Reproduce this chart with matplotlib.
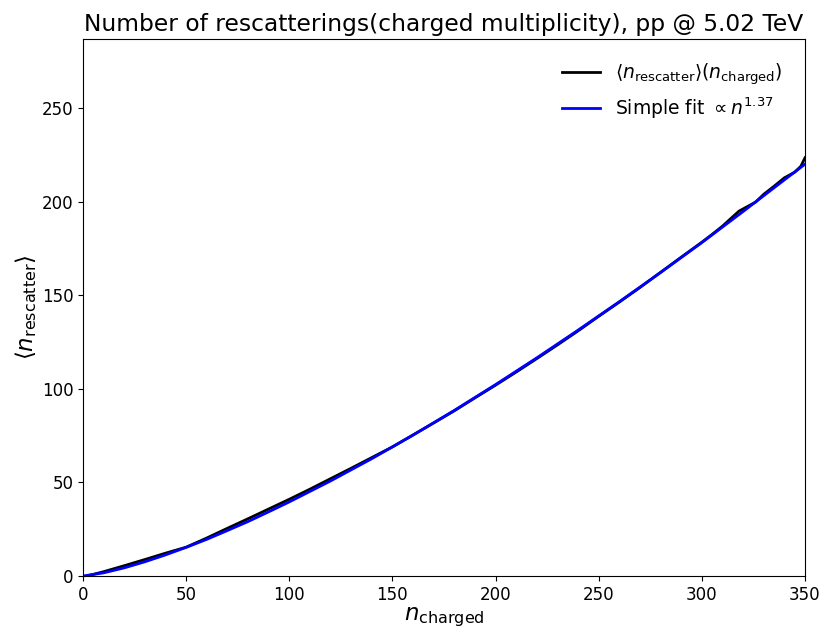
import numpy as np
import matplotlib
matplotlib.use('Agg')
import matplotlib.pyplot as plt

# mean number of rescatterings vs charged multiplicity
n_charged = [3, 10, 20, 30, 40, 50, 60, 70, 80, 90, 100, 110, 120, 130, 140, 150,
             160, 170, 180, 190, 200, 210, 220, 230, 240, 250, 260, 270, 280, 290,
             300, 305, 310, 315, 318, 322, 326, 330, 335, 340, 345, 348, 350]
n_rescatter = [0.3, 2.3, 5.5, 8.8, 12.2, 15.4, 20.3, 25.5, 30.6, 35.8, 41.0, 46.4,
               52.0, 57.6, 63.3, 69.0, 75.4, 81.8, 88.3, 95.2, 102.0, 109.0, 116.2,
               123.5, 131.0, 138.8, 146.4, 154.2, 162.3, 170.4, 178.4, 182.6, 187.0,
               192.0, 195.0, 197.4, 199.8, 204.0, 208.3, 212.8, 215.8, 219.0, 223.5]

# simple fit curve, read at regular points
fit_n = [0, 10, 20, 30, 40, 50, 60, 70, 80, 90, 100, 120, 140, 160, 180, 200,
         220, 240, 260, 280, 300, 320, 340, 350]
fit_val = [0.0, 1.69, 4.36, 7.60, 11.28, 15.3, 19.6, 24.3, 29.1, 34.3, 39.6, 50.8,
           62.7, 75.3, 88.5, 102.3, 116.6, 131.4, 146.6, 162.2, 178.2, 194.8, 211.7, 220.1]

plt.rcParams['mathtext.fontset'] = 'dejavusans'
fig = plt.figure(figsize=(8.31, 6.44), dpi=100)
ax = fig.add_axes([83 / 831, 1 - 576 / 644, 722 / 831, 537 / 644])

ax.plot(n_charged, n_rescatter, color='black', lw=2,
        label=r'$\langle n_{\mathrm{rescatter}}\rangle(n_{\mathrm{charged}})$')
ax.plot(fit_n, fit_val, color='blue', lw=2, label=r'Simple fit $\propto n^{1.37}$')

ax.set_xlim(0, 350)
ax.set_ylim(0, 287)
ax.set_xticks(np.arange(0, 351, 50))
ax.set_yticks(np.arange(0, 251, 50))
ax.tick_params(labelsize=12)
ax.set_xlabel(r'$n_{\mathrm{charged}}$', fontsize=16.5, labelpad=1)
ax.set_ylabel(r'$\langle n_{\mathrm{rescatter}}\rangle$', fontsize=16.5, labelpad=2)
ax.set_title('Number of rescatterings(charged multiplicity), pp @ 5.02 TeV', fontsize=16.8)
ax.legend(loc='upper right', frameon=False, fontsize=13.5, labelspacing=0.45,
          borderaxespad=0.8)

fig.savefig('out.png', dpi=100)
